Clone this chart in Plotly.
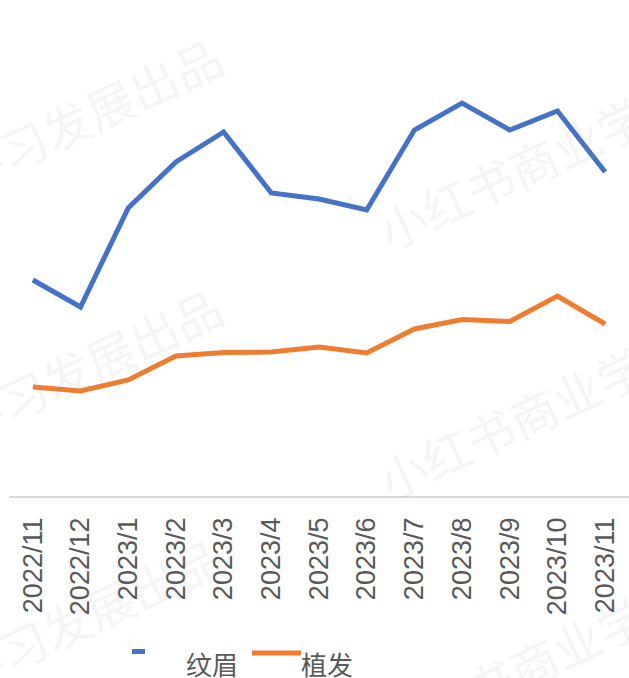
import plotly.graph_objects as go

months = ["2022/11", "2022/12", "2023/1", "2023/2", "2023/3", "2023/4", "2023/5",
          "2023/6", "2023/7", "2023/8", "2023/9", "2023/10", "2023/11"]
wenmei = [216, 189, 288, 334, 364, 303, 297, 286, 366, 393, 366, 385, 324]
zhifa = [109, 105, 116, 140, 143.5, 144, 149, 143, 167, 176.5, 174.5, 200, 172]
series_names = ["纹眉", "植发"]
colors = ["#4472C4", "#ED7D31"]
watermark = "小红书商业学习发展出品"

W, H = 629, 678
L, R, T, B = 9, 0, 10, 182
PW, PH = W - L - R, H - T - B


def px(x):
    return (x - L) / PW


def py(y):
    return (H - B - y) / PH


fig = go.Figure()
for name, vals, c in zip(series_names, [wenmei, zhifa], colors):
    fig.add_trace(go.Scatter(x=months, y=vals, name=name, mode="lines",
                             line=dict(color=c, width=5), showlegend=False))

annotations = []
# faint watermark
for cx, cy in [(-21, -86), (-21, 164), (-21, 414), (-21, 664),
               (620, -129), (620, 121), (620, 371), (620, 621)]:
    annotations.append(dict(text=watermark, x=px(cx), y=py(cy), xref="paper", yref="paper",
                            xanchor="center", yanchor="middle", showarrow=False,
                            textangle=-25,
                            font=dict(family="Noto Sans CJK SC", size=48,
                                      color="rgba(160,160,160,0.10)")))

# manual legend
shapes = [
    dict(type="rect", xref="paper", yref="paper", x0=px(132), x1=px(145),
         y0=py(654), y1=py(649), fillcolor=colors[0], line=dict(width=0)),
    dict(type="line", xref="paper", yref="paper", x0=px(252), x1=px(301),
         y0=py(653), y1=py(653), line=dict(color=colors[1], width=5)),
]
for name, cx in zip(series_names, [212, 327]):
    annotations.append(dict(text=name, x=px(cx), y=py(663), xref="paper", yref="paper",
                            xanchor="center", yanchor="middle", showarrow=False,
                            font=dict(family="Noto Sans CJK SC", size=26, color="#595959")))

fig.update_layout(
    width=W, height=H,
    margin=dict(l=L, r=R, t=T, b=B),
    paper_bgcolor="white", plot_bgcolor="white",
    showlegend=False,
    xaxis=dict(type="category", range=[-0.5, len(months) - 0.5],
               showline=True, linecolor="#d9d9d9", linewidth=1.5,
               showgrid=False, zeroline=False, tickangle=-90, ticks="",
               ticklabelstandoff=9, automargin=False,
               tickfont=dict(family="Liberation Sans", size=27, color="#595959")),
    yaxis=dict(range=[0, PH], visible=False, showgrid=False, zeroline=False),
    annotations=annotations,
    shapes=shapes,
)

fig.write_html("out.html", config={"displayModeBar": False},
               post_script="document.body.style.margin='0';document.body.style.overflow='hidden';")
